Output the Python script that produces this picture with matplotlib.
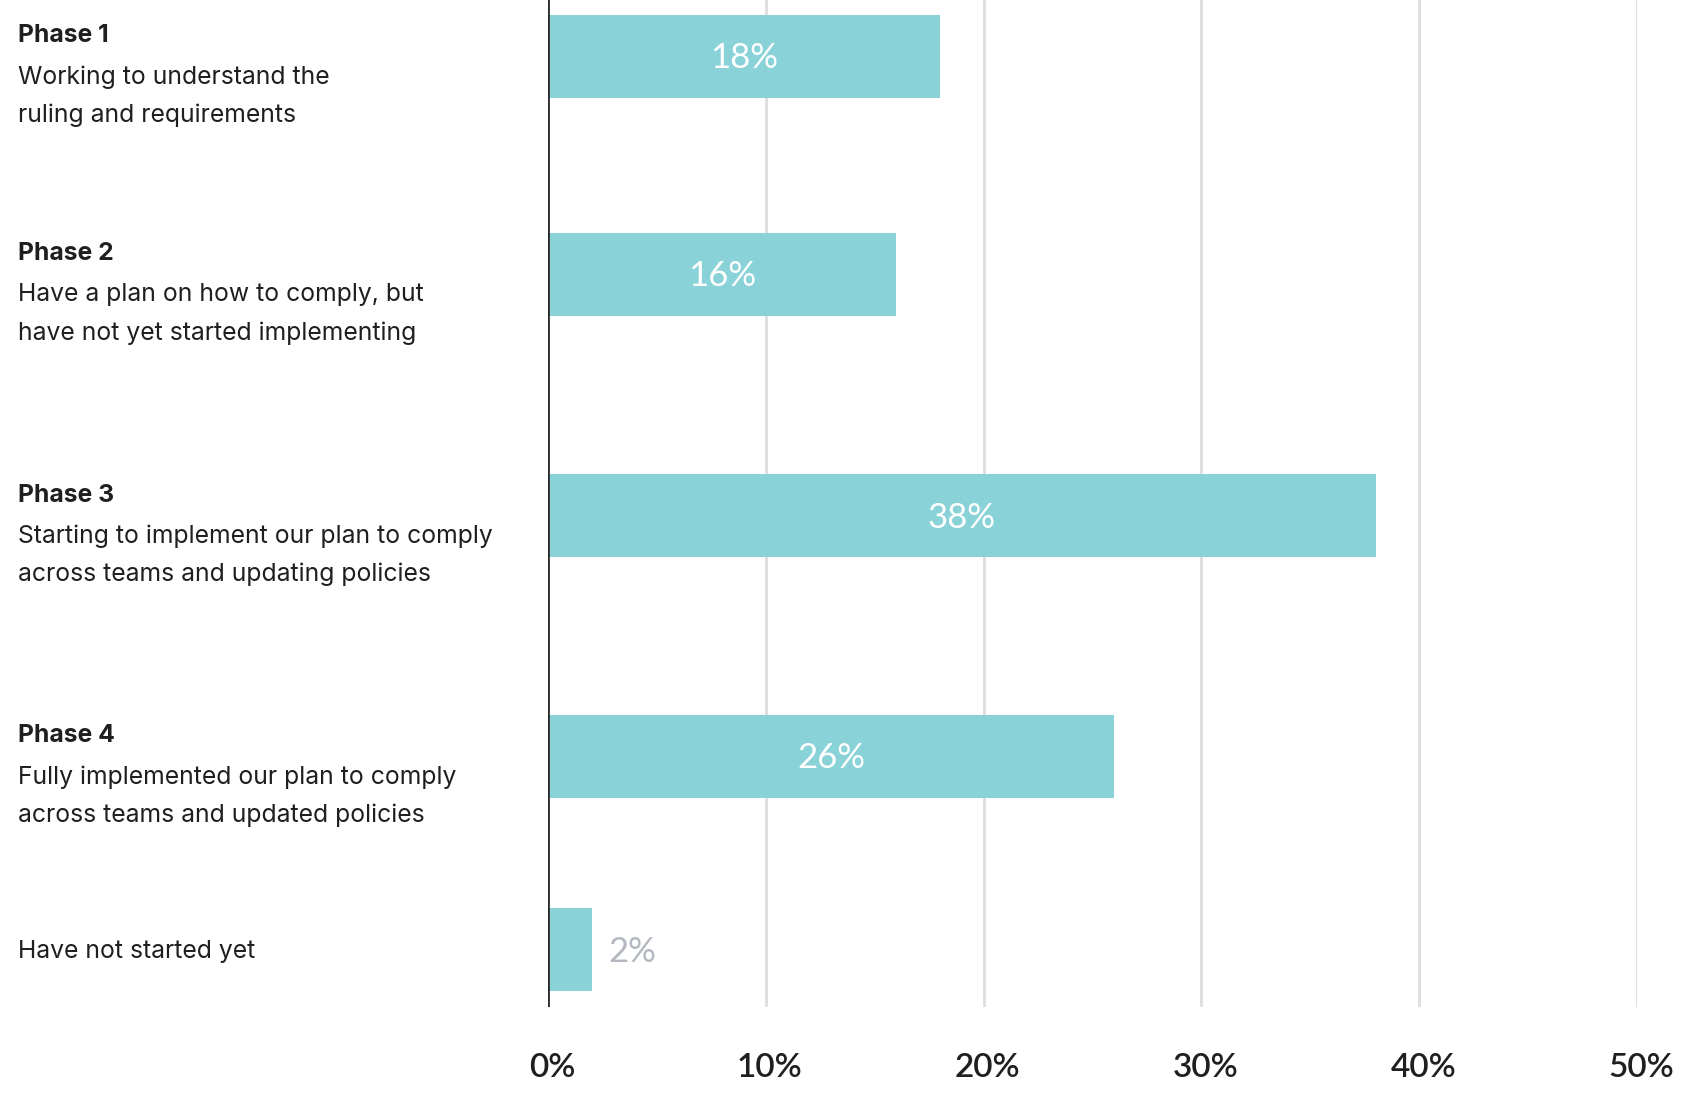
import matplotlib
matplotlib.use("Agg")
import matplotlib.pyplot as plt
from matplotlib.transforms import ScaledTranslation

# Survey data
phase_titles = ["Phase 1", "Phase 2", "Phase 3", "Phase 4", ""]
phase_descriptions = [
    ["Working to understand the", "ruling and requirements"],
    ["Have a plan on how to comply, but", "have not yet started implementing"],
    ["Starting to implement our plan to comply", "across teams and updating policies"],
    ["Fully implemented our plan to comply", "across teams and updated policies"],
    ["Have not started yet"],
]
shares = [18, 16, 38, 26, 2]
x_ticks = [0, 10, 20, 30, 40, 50]
x_tick_labels = ["0%", "10%", "20%", "30%", "40%", "50%"]

# Layout (pixel units, measured from the top of the plotting area)
W, H, DPI = 1689, 1096, 100
row_centers = [56.5, 274.5, 515.5, 756.5, 949.5]
bar_height = 83
plot_bottom_px = 1007
left_px, right_px = 548, 1637

bar_color = "#89D3D8"
text_color = "#1f1f1f"
grid_color = "#dddddd"

fig = plt.figure(figsize=(W / DPI, H / DPI), dpi=DPI)
fig.patch.set_facecolor("white")
ax = fig.add_axes([left_px / W, 1 - plot_bottom_px / H,
                   (right_px - left_px) / W, plot_bottom_px / H])
ax.set_xlim(0, 50)
ax.set_ylim(plot_bottom_px, 0)

# Gridlines
for t in x_ticks[1:]:
    ax.axvline(t, color=grid_color, lw=2, zorder=0)
ax.axvline(0, color="#2b2b2b", lw=2, zorder=3)

ax.barh(row_centers, shares, height=bar_height, color=bar_color, zorder=2)

label_font = "Lato"
for y, v in zip(row_centers, shares):
    if v >= 5:
        ax.text(v / 2, y + 2, f"{v}%", ha="center", va="center", color="white",
                fontsize=25, family=label_font, zorder=4)
    else:
        ax.text(v + 0.75, y + 2, f"{v}%", ha="left", va="center", color="#b3b7bf",
                fontsize=25, family=label_font, zorder=4)

for s in ax.spines.values():
    s.set_visible(False)
ax.set_yticks([])
ax.set_xticks(x_ticks)
ax.set_xticklabels(x_tick_labels, fontsize=24, family=label_font,
                   fontweight="semibold", color=text_color)
ax.tick_params(axis="x", length=0, pad=33)
nudge = ScaledTranslation(4 / DPI, 0, fig.dpi_scale_trans)
for lbl in ax.get_xticklabels():
    lbl.set_transform(lbl.get_transform() + nudge)

# Category text on the left
text_font = "Inter"
x_text = 18 / W
for y, title, desc in zip(row_centers, phase_titles, phase_descriptions):
    top = y - bar_height / 2
    if title:
        fig.text(x_text, 1 - (top + 21) / H, title, ha="left", va="center",
                 fontsize=17.8, fontweight="bold", family=text_font, color=text_color)
        for i, line in enumerate(desc):
            fig.text(x_text, 1 - (top + 62 + i * 38) / H, line, ha="left",
                     va="center", fontsize=17.8, family=text_font, color=text_color)
    else:
        fig.text(x_text, 1 - (y + 2) / H, desc[0], ha="left", va="center",
                 fontsize=17.8, family=text_font, color=text_color)

fig.savefig("out.png", dpi=DPI)
